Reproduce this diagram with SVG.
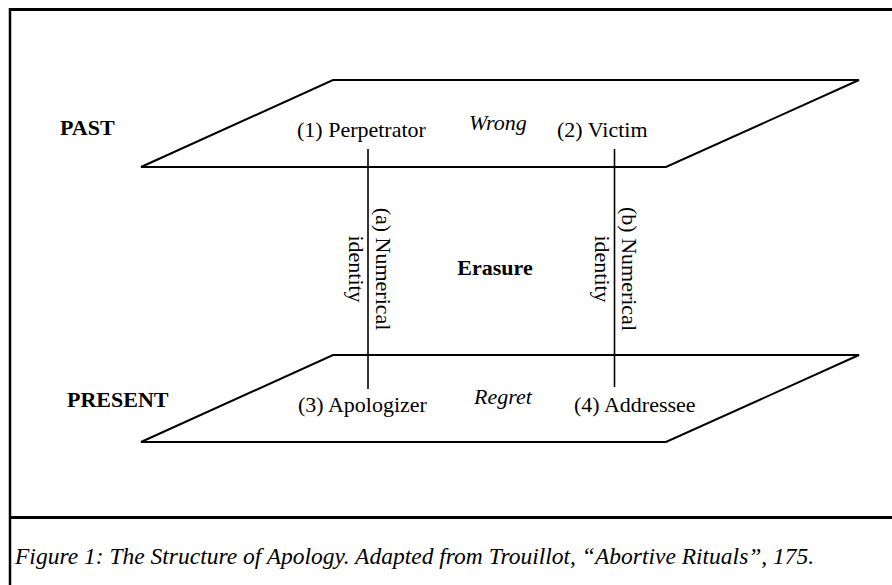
<svg xmlns="http://www.w3.org/2000/svg" width="892" height="585" viewBox="0 0 892 585">
<style>
.t{font-family:"Liberation Serif","Times New Roman",serif;font-size:22px;fill:#000}
.b{font-weight:bold}
.i{font-style:italic}
.cap{font-size:23.5px}
.plane{fill:none;stroke:#000;stroke-width:2}
.frame{stroke:#000;fill:none}
.conn{stroke:#000;stroke-width:1.6;fill:none}
</style>
<rect width="892" height="585" fill="#fff"/>
<g id="frame">
<line class="frame" x1="10" y1="8" x2="10" y2="585" stroke-width="2.5"/>
<line class="frame" x1="9" y1="9.5" x2="892" y2="9.5" stroke-width="3"/>
<line class="frame" x1="9" y1="517.5" x2="892" y2="517.5" stroke-width="3"/>
</g>
<g id="past-plane">
<polygon class="plane" points="333,80 859,80 666,167 141,167"/>
<text class="t b" x="60" y="135">PAST</text>
<text class="t i" x="469" y="130">Wrong</text>
</g>
<g id="present-plane">
<polygon class="plane" points="333,355 859,355 666,442 141,442"/>
<text class="t b" x="67" y="407">PRESENT</text>
<text class="t i" x="474" y="404">Regret</text>
</g>
<g id="connectors">
<line class="conn" x1="368" y1="149" x2="368" y2="389"/>
<line class="conn" x1="614.5" y1="149" x2="614.5" y2="387"/>
<text class="t" transform="translate(376,269) rotate(90)" text-anchor="middle">(a) Numerical</text>
<text class="t" transform="translate(349,269) rotate(90)" text-anchor="middle">identity</text>
<text class="t" transform="translate(622,269) rotate(90)" text-anchor="middle">(b) Numerical</text>
<text class="t" transform="translate(595,269) rotate(90)" text-anchor="middle">identity</text>
</g>
<g id="perpetrator"><text class="t" x="297" y="137">(1) Perpetrator</text></g>
<g id="victim"><text class="t" x="557" y="137">(2) Victim</text></g>
<g id="apologizer"><text class="t" x="298" y="412">(3) Apologizer</text></g>
<g id="addressee"><text class="t" x="574" y="412">(4) Addressee</text></g>
<g id="erasure"><text class="t b" x="495" y="275" text-anchor="middle">Erasure</text></g>
<g id="caption"><text class="t i cap" x="15" y="564">Figure 1: The Structure of Apology. Adapted from Trouillot, “Abortive Rituals”, 175.</text></g>
</svg>
